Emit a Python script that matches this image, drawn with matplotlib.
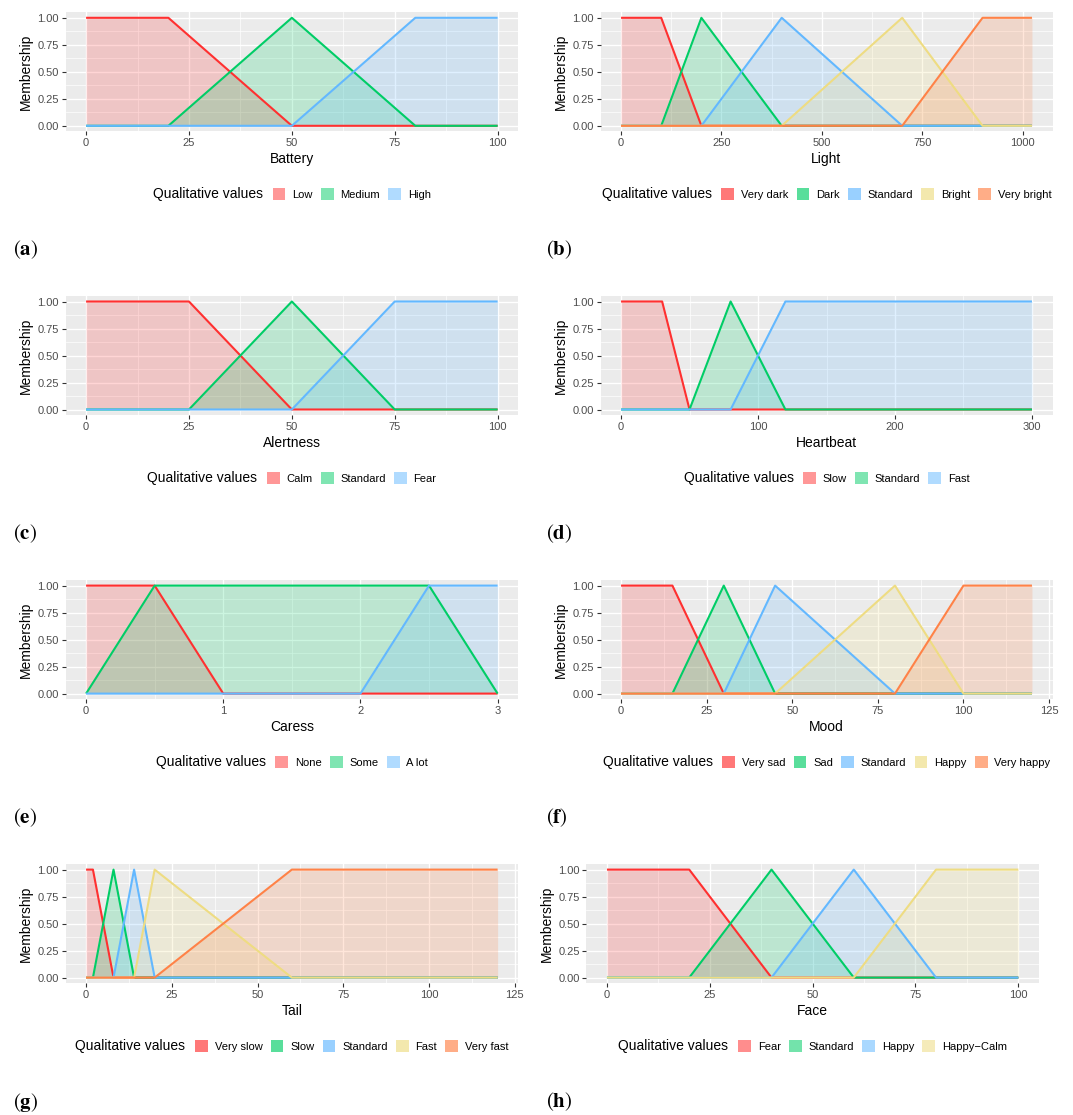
import matplotlib
matplotlib.use('Agg')
import matplotlib.pyplot as plt
from matplotlib.patches import Patch
from matplotlib.offsetbox import HPacker
from matplotlib.ticker import AutoMinorLocator, FormatStrFormatter

plt.rcParams['font.family'] = ['Liberation Sans', 'DejaVu Sans']
plt.rcParams['mathtext.fontset'] = 'stix'

# membership functions: breakpoints on the x axis and degree at each breakpoint
battery_x = [0, 20, 50, 80, 100]
battery_low = [1, 1, 0, 0, 0]
battery_medium = [0, 0, 1, 0, 0]
battery_high = [0, 0, 0, 1, 1]
battery_names = ['Low', 'Medium', 'High']
battery_ticks = [0, 25, 50, 75, 100]

light_x = [0, 100, 200, 400, 700, 900, 1023]
light_very_dark = [1, 1, 0, 0, 0, 0, 0]
light_dark = [0, 0, 1, 0, 0, 0, 0]
light_standard = [0, 0, 0, 1, 0, 0, 0]
light_bright = [0, 0, 0, 0, 1, 0, 0]
light_very_bright = [0, 0, 0, 0, 0, 1, 1]
light_names = ['Very dark', 'Dark', 'Standard', 'Bright', 'Very bright']
light_ticks = [0, 250, 500, 750, 1000]

alert_x = [0, 25, 50, 75, 100]
alert_calm = [1, 1, 0, 0, 0]
alert_standard = [0, 0, 1, 0, 0]
alert_fear = [0, 0, 0, 1, 1]
alert_names = ['Calm', 'Standard', 'Fear']
alert_ticks = [0, 25, 50, 75, 100]

heart_x = [0, 30, 50, 80, 120, 300]
heart_slow = [1, 1, 0, 0, 0, 0]
heart_standard = [0, 0, 0, 1, 0, 0]
heart_fast = [0, 0, 0, 0, 1, 1]
heart_names = ['Slow', 'Standard', 'Fast']
heart_ticks = [0, 100, 200, 300]

caress_x = [0, 0.5, 1, 2, 2.5, 3]
caress_none = [1, 1, 0, 0, 0, 0]
caress_some = [0, 1, 1, 1, 1, 0]
caress_alot = [0, 0, 0, 0, 1, 1]
caress_names = ['None', 'Some', 'A lot']
caress_ticks = [0, 1, 2, 3]

mood_x = [0, 15, 30, 45, 80, 100, 120]
mood_very_sad = [1, 1, 0, 0, 0, 0, 0]
mood_sad = [0, 0, 1, 0, 0, 0, 0]
mood_standard = [0, 0, 0, 1, 0, 0, 0]
mood_happy = [0, 0, 0, 0, 1, 0, 0]
mood_very_happy = [0, 0, 0, 0, 0, 1, 1]
mood_names = ['Very sad', 'Sad', 'Standard', 'Happy', 'Very happy']
mood_ticks = [0, 25, 50, 75, 100, 125]

tail_x = [0, 2, 8, 14, 20, 60, 120]
tail_very_slow = [1, 1, 0, 0, 0, 0, 0]
tail_slow = [0, 0, 1, 0, 0, 0, 0]
tail_standard = [0, 0, 0, 1, 0, 0, 0]
tail_fast = [0, 0, 0, 0, 1, 0, 0]
tail_very_fast = [0, 0, 0, 0, 0, 1, 1]
tail_names = ['Very slow', 'Slow', 'Standard', 'Fast', 'Very fast']
tail_ticks = [0, 25, 50, 75, 100, 125]

face_x = [0, 20, 40, 60, 80, 100]
face_fear = [1, 1, 0, 0, 0, 0]
face_standard = [0, 0, 1, 0, 0, 0]
face_happy = [0, 0, 0, 1, 0, 0]
face_happy_calm = [0, 0, 0, 0, 1, 1]
face_names = ['Fear', 'Standard', 'Happy', 'Happy\u2212Calm']
face_ticks = [0, 25, 50, 75, 100]

line_colors = ['#FF3030', '#00CD66', '#63B8FF', '#EEDC82', '#FF8247']

W, H = 1073, 1115
fig = plt.figure(figsize=(W / 100, H / 100), dpi=100)

row_tops = [12.4, 296.1, 580.2, 864.2]
panel_h = 118.8
left_col = (65.5, 518.2)
right_col = (600.5, 1052.5)


def add_panel(left, right, top, xs, series, names, ticks, xlabel, key_alpha):
    ax = fig.add_axes([left / W, 1 - (top + panel_h) / H,
                       (right - left) / W, panel_h / H])
    ax.set_facecolor('#EBEBEB')
    for s in ax.spines.values():
        s.set_visible(False)
    colors = line_colors[:len(series)]
    for ys, c in zip(series, colors):
        ax.fill_between(xs, 0, ys, color=c, alpha=0.2, lw=0)
    for ys, c in zip(series, colors):
        ax.plot(xs, ys, color=c, lw=1.5, solid_capstyle='butt')

    span = xs[-1] - xs[0]
    ax.set_xlim(xs[0] - 0.05 * span, xs[-1] + 0.05 * span)
    ax.set_ylim(-0.05, 1.05)
    ax.set_xticks(ticks)
    ax.set_yticks([0, 0.25, 0.5, 0.75, 1.0])
    ax.yaxis.set_major_formatter(FormatStrFormatter('%.2f'))
    ax.xaxis.set_minor_locator(AutoMinorLocator(2))
    ax.yaxis.set_minor_locator(AutoMinorLocator(2))
    ax.tick_params(which='major', length=2.8, width=0.8, color='#333333',
                   labelcolor='#4D4D4D', labelsize=8, pad=2)
    ax.tick_params(which='minor', length=0)
    ax.grid(which='major', color='white', lw=1.0)
    ax.grid(which='minor', color='white', lw=0.5)
    ax.set_axisbelow(True)
    ax.set_xlabel(xlabel, fontsize=10, labelpad=3)
    ax.set_ylabel('Membership', fontsize=10, labelpad=3)

    handles = [Patch(facecolor=c, alpha=key_alpha, edgecolor='none') for c in colors]
    leg = ax.legend(handles, names, title='Qualitative values', ncol=len(names),
                    loc='center', bbox_to_anchor=(0.5, -0.53), frameon=False,
                    fontsize=8, title_fontsize=10, handlelength=1.15,
                    handleheight=1.35, handletextpad=0.6, columnspacing=0.75,
                    borderpad=0)
    # put the title to the left of the keys instead of above them
    box = leg._legend_box
    row = HPacker(pad=0, sep=7, align='center', children=box.get_children())
    row.set_figure(fig)
    row.axes = ax
    row.set_offset(leg._findoffset)
    leg._legend_box = row
    return ax


add_panel(*left_col, row_tops[0], battery_x,
          [battery_low, battery_medium, battery_high],
          battery_names, battery_ticks, 'Battery', 0.5)
add_panel(*right_col, row_tops[0], light_x,
          [light_very_dark, light_dark, light_standard, light_bright, light_very_bright],
          light_names, light_ticks, 'Light', 0.65)
add_panel(*left_col, row_tops[1], alert_x,
          [alert_calm, alert_standard, alert_fear],
          alert_names, alert_ticks, 'Alertness', 0.5)
add_panel(*right_col, row_tops[1], heart_x,
          [heart_slow, heart_standard, heart_fast],
          heart_names, heart_ticks, 'Heartbeat', 0.5)
add_panel(*left_col, row_tops[2], caress_x,
          [caress_none, caress_some, caress_alot],
          caress_names, caress_ticks, 'Caress', 0.5)
add_panel(*right_col, row_tops[2], mood_x,
          [mood_very_sad, mood_sad, mood_standard, mood_happy, mood_very_happy],
          mood_names, mood_ticks, 'Mood', 0.65)
add_panel(*left_col, row_tops[3], tail_x,
          [tail_very_slow, tail_slow, tail_standard, tail_fast, tail_very_fast],
          tail_names, tail_ticks, 'Tail', 0.65)
add_panel(586.4, 1038.9, row_tops[3], face_x,
          [face_fear, face_standard, face_happy, face_happy_calm],
          face_names, face_ticks, 'Face', 0.55)

# sub-figure letters
letter_rows = [250, 534, 818, 1102]
for i, (a, b) in enumerate(zip('aceg', 'bdfh')):
    y = 1 - letter_rows[i] / H
    fig.text(13 / W, y, r'$(\mathbf{%s})$' % a, fontsize=15, va='center', ha='left')
    fig.text(546 / W, y, r'$(\mathbf{%s})$' % b, fontsize=15, va='center', ha='left')

fig.savefig('out.png', dpi=100, facecolor='white')
